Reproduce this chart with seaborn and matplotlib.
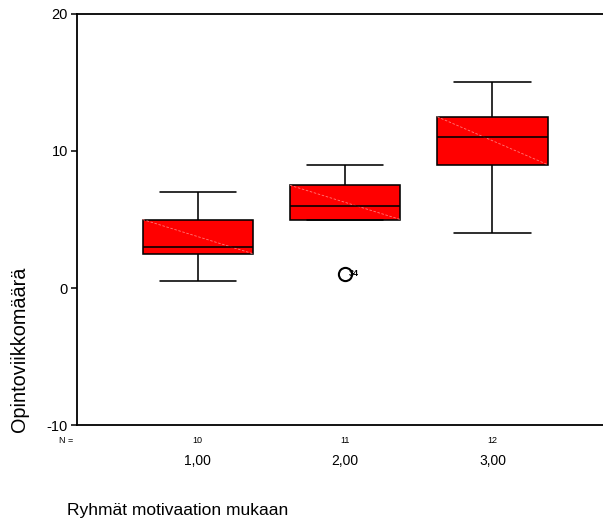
import numpy as np
import pandas as pd
import seaborn as sns
import matplotlib.pyplot as plt
import matplotlib.transforms as mtransforms

# groups and the (estimated) observations behind each box
groups = ["1,00", "2,00", "3,00"]
g1 = [0.5, 2, 2.5, 2.5, 3, 3, 5, 5, 6, 7]
g2 = [1, 5, 5, 5, 5.5, 6, 6.5, 7.5, 7.5, 8, 9]
g3 = [4, 7, 9, 9, 10, 11, 11, 12, 12.5, 12.5, 14, 15]
outlier_ids = ["34"]
yticks = [-10, 0, 10, 20]

df = pd.DataFrame({
    "ryhma": np.repeat(groups, [len(g1), len(g2), len(g3)]),
    "ov": g1 + g2 + g3,
})
counts = df.groupby("ryhma").size().reindex(groups)

sns.set_style("white")
plt.rcParams["font.family"] = ["Liberation Sans", "DejaVu Sans"]
plt.rcParams["axes.unicode_minus"] = False
for k in ["text.color", "axes.labelcolor", "xtick.color", "ytick.color"]:
    plt.rcParams[k] = "black"

fig = plt.figure(figsize=(6.03, 5.22), dpi=100)
ax = fig.add_axes([0.1277, 0.1858, 0.8723, 0.7874])

sns.boxplot(data=df, x="ryhma", y="ov", order=groups, color="#ff0000",
            saturation=1, width=0.75, linecolor="black", linewidth=1.15,
            capwidths=0.52, ax=ax,
            flierprops=dict(marker="o", markersize=9.5, markerfacecolor="none",
                            markeredgecolor="black", markeredgewidth=1.5))

# faint diagonal inside each box (SPSS rendering artefact)
for p in ax.patches:
    verts = (p.get_transform() - ax.transData).transform(p.get_path().vertices)
    x0, x1 = verts[:, 0].min(), verts[:, 0].max()
    y0, y1 = verts[:, 1].min(), verts[:, 1].max()
    ax.plot([x0, x1], [y1, y0], color="#ff7a7a", lw=0.6, ls=(0, (3, 2)),
            zorder=p.get_zorder() + 0.05)

# case number next to the outlier
for line in ax.lines:
    if line.get_marker() == "o" and len(line.get_xdata()):
        for x, y, lab in zip(line.get_xdata(), line.get_ydata(), outlier_ids):
            ax.annotate(lab, (x, y), xytext=(3, 0.8), textcoords="offset points",
                        fontsize=6.5, fontweight="bold", va="center")

ax.set_xlim(-0.82, 2.75)
ax.set_ylim(-10, 20)
ax.set_yticks(yticks)

for s in ["left", "top", "bottom"]:
    ax.spines[s].set_visible(True)
    ax.spines[s].set_color("black")
    ax.spines[s].set_linewidth(1.3)
ax.spines["right"].set_visible(False)

ax.tick_params(axis="y", length=4.5, width=1.1, pad=2, labelsize=10.5,
               direction="out", left=True)
ax.tick_params(axis="x", length=0, pad=21, labelsize=10)

# N = counts under the axis
trans = mtransforms.blended_transform_factory(ax.transData, ax.transAxes)
ax.text(-0.021, -0.0365, "N =", transform=ax.transAxes, ha="center", va="center", fontsize=6.5)
for i, g in enumerate(groups):
    ax.text(i, -0.0365, str(counts[g]), transform=trans, ha="center", va="center", fontsize=6.5)

ax.set_xlabel("Ryhmät motivaation mukaan", fontsize=12.5)
ax.xaxis.set_label_coords(-0.019, -0.209)
ax.xaxis.label.set_ha("left")
ax.xaxis.label.set_va("center")

ax.set_ylabel("Opintoviikkomäärä", fontsize=14.3)
ax.yaxis.set_label_coords(-0.110, -0.017)
ax.yaxis.label.set_ha("left")
ax.yaxis.label.set_va("center")

fig.savefig("out.png", dpi=100)
